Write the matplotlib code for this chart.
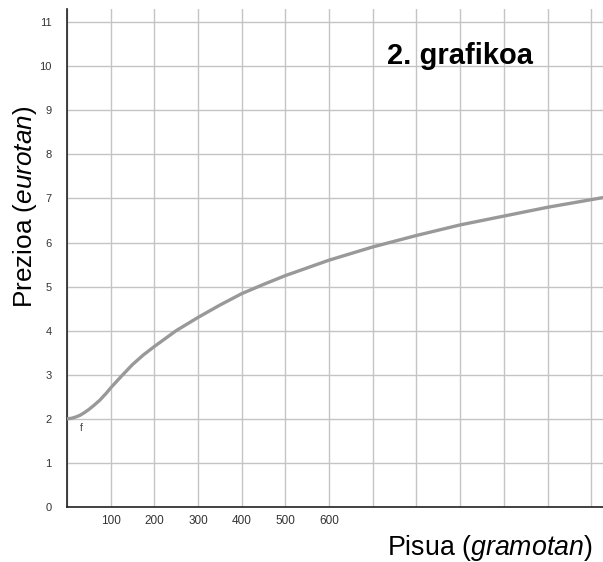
import matplotlib.pyplot as plt
import numpy as np

plt.rcParams['font.family'] = ['Liberation Sans', 'DejaVu Sans']
plt.rcParams['mathtext.fontset'] = 'custom'
plt.rcParams['mathtext.rm'] = 'Liberation Sans'
plt.rcParams['mathtext.it'] = 'Liberation Sans:italic'

# values
weight = [0, 10, 20, 30, 40, 50, 60, 75, 90, 100, 125, 150, 175, 200, 250, 300, 350,
          400, 450, 500, 600, 700, 800, 900, 1000, 1100, 1227]
price = [2.0, 2.01, 2.04, 2.08, 2.14, 2.21, 2.29, 2.42, 2.58, 2.70, 2.97, 3.23, 3.45,
         3.64, 4.0, 4.3, 4.58, 4.84, 5.05, 5.25, 5.6, 5.9, 6.16, 6.4, 6.6, 6.8, 7.02]

x_grid = list(range(0, 1300, 100))
x_labels = ['', '100', '200', '300', '400', '500', '600', '', '', '', '', '', '']
y_ticks = list(range(0, 12))

fig = plt.figure(figsize=(6.03, 5.62), dpi=100)
ax = fig.add_axes([0.111, 0.098, 0.889, 0.886])

ax.plot(weight, price, color='#999999', linewidth=2.4, solid_capstyle='round',
        solid_joinstyle='round', zorder=3)
ax.text(30, 1.72, 'f', fontsize=7.5, color='#444444')

ax.set_xlim(0, 1227)
ax.set_ylim(0, 11.3)
ax.set_xticks(x_grid)
ax.set_xticklabels(x_labels, fontsize=8.5, color='#333333')
ax.set_yticks(y_ticks)
ax.set_yticklabels([str(v) for v in y_ticks], fontsize=8, color='#333333')
ax.tick_params(axis='x', length=0, pad=6)
ax.tick_params(axis='y', length=0, pad=11)
ax.grid(True, color='#c4c4c4', linewidth=1)
ax.set_axisbelow(True)
for s in ['top', 'right']:
    ax.spines[s].set_visible(False)
for s in ['left', 'bottom']:
    ax.spines[s].set_color('#222222')
    ax.spines[s].set_linewidth(1.2)

fig.text(0.641, 0.886, '2. grafikoa', fontsize=21, fontweight='bold', color='black',
         va='baseline')
fig.text(0.982, 0.0125, 'Pisua ($\\mathit{gramotan}$)', fontsize=19.3, ha='right',
         va='baseline')
fig.text(0.041, 0.632, 'Prezioa ($\\mathit{eurotan}$)', fontsize=18.8, rotation=90,
         va='center', ha='center')

fig.savefig('out.png', dpi=100)
